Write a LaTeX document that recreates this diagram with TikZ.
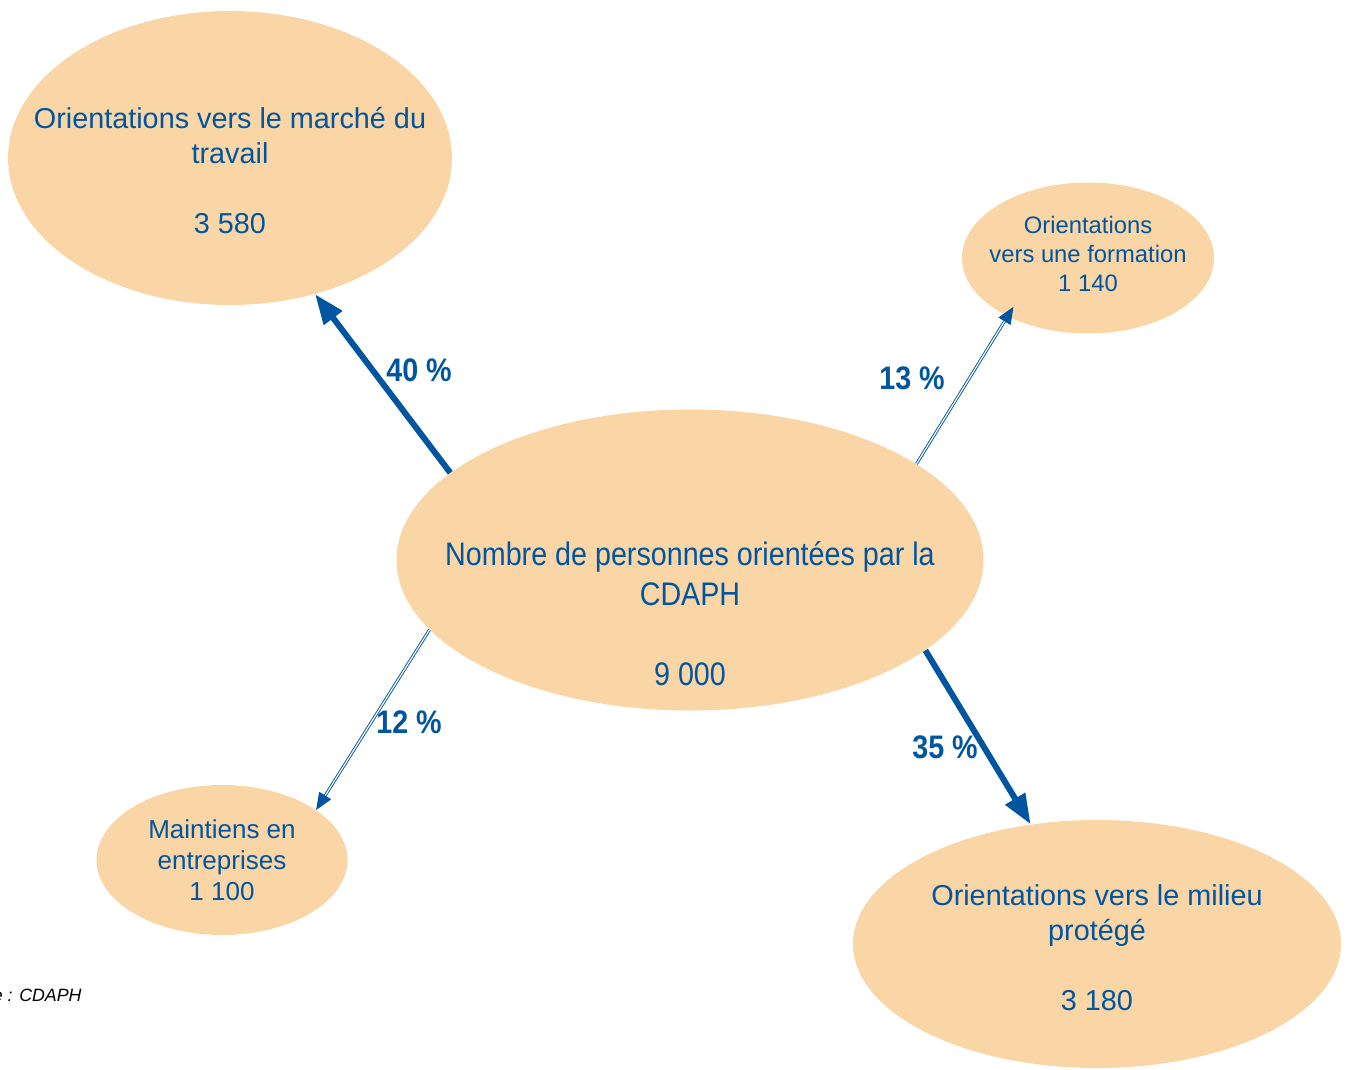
\documentclass[tikz,border=0pt]{standalone}
\usepackage{fontspec}
\setmainfont{Liberation Sans}
\newfontfamily\narrowsans[FakeStretch=0.88]{Liberation Sans}
\usepackage{tikz}
\usetikzlibrary{shapes.geometric,arrows.meta}
\definecolor{peach}{HTML}{FAD5A5}
\definecolor{cdaphblue}{HTML}{0055A0}

\begin{document}
\begin{tikzpicture}[
  x=0.5pt, y=-0.5pt,
  bubble/.style={ellipse, fill=peach, inner sep=0pt},
  txt/.style={text=cdaphblue, align=center},
  bigtxt/.style={txt, font=\fontsize{14.4}{17.5}\selectfont},
  smalltxt/.style={txt, font=\fontsize{11.9}{14.5}\selectfont},
  midtxt/.style={txt, font=\fontsize{13}{15.5}\selectfont},
  pct/.style={text=cdaphblue, font=\narrowsans\bfseries\fontsize{16.3}{20}\selectfont},
  fatarrow/.style={draw=cdaphblue, line width=3pt, -{Triangle[length=15pt,width=11pt]}},
  thinarrow/.style={draw=cdaphblue, line width=0.45pt, double=white, double distance=0.6pt, -{Triangle[length=8.5pt,width=7pt]}},
]
\useasboundingbox (0,0) rectangle (1349,1070);

% les cinq bulles
\node[bubble, minimum width=293.5pt, minimum height=150.5pt,
  label={[txt, font=\narrowsans\fontsize{16.3}{20}\selectfont, yshift=-27pt]center:{Nombre de personnes orientées par la\\CDAPH\\[20pt]9 000}}] (cdaph) at (690,560) {};
\node[bubble, minimum width=222pt, minimum height=147pt,
  label={[bigtxt, yshift=-6.5pt]center:{Orientations vers le marché du\\travail\\[17.5pt]3 580}}] (marche) at (230,158) {};
\node[bubble, minimum width=126pt, minimum height=75.5pt,
  label={[smalltxt, yshift=2pt]center:{Orientations\\vers une formation\\1 140}}] (formation) at (1088,258) {};
\node[bubble, minimum width=125.5pt, minimum height=75pt,
  label={[midtxt]center:{Maintiens en\\entreprises\\1 100}}] (maintiens) at (222,860) {};
\node[bubble, minimum width=244pt, minimum height=124pt,
  label={[bigtxt, yshift=-2pt]center:{Orientations vers le milieu\\protégé\\[17.5pt]3 180}}] (protege) at (1097,944) {};

% flux
\draw[fatarrow] (cdaph.160.5) -- (marche.-58.5);
\draw[thinarrow, shorten >=-5.7pt] (cdaph.23.4) -- (formation.216.6);
\draw[thinarrow] (cdaph.195.5) -- (maintiens.28.8);
\draw[fatarrow] (cdaph.339) -- (protege.119.2);

\node[pct] (p40) at (419,370) {40~\%};
\node[pct] (p13) at (912,378) {13~\%};
\node[pct] (p12) at (409,722) {12~\%};
\node[pct] (p35) at (945,747) {35~\%};

\node[font=\itshape\fontsize{8.9}{10}\selectfont, anchor=east, inner sep=0pt] (source) at (82,995) {Source : CDAPH};
\end{tikzpicture}
\end{document}
